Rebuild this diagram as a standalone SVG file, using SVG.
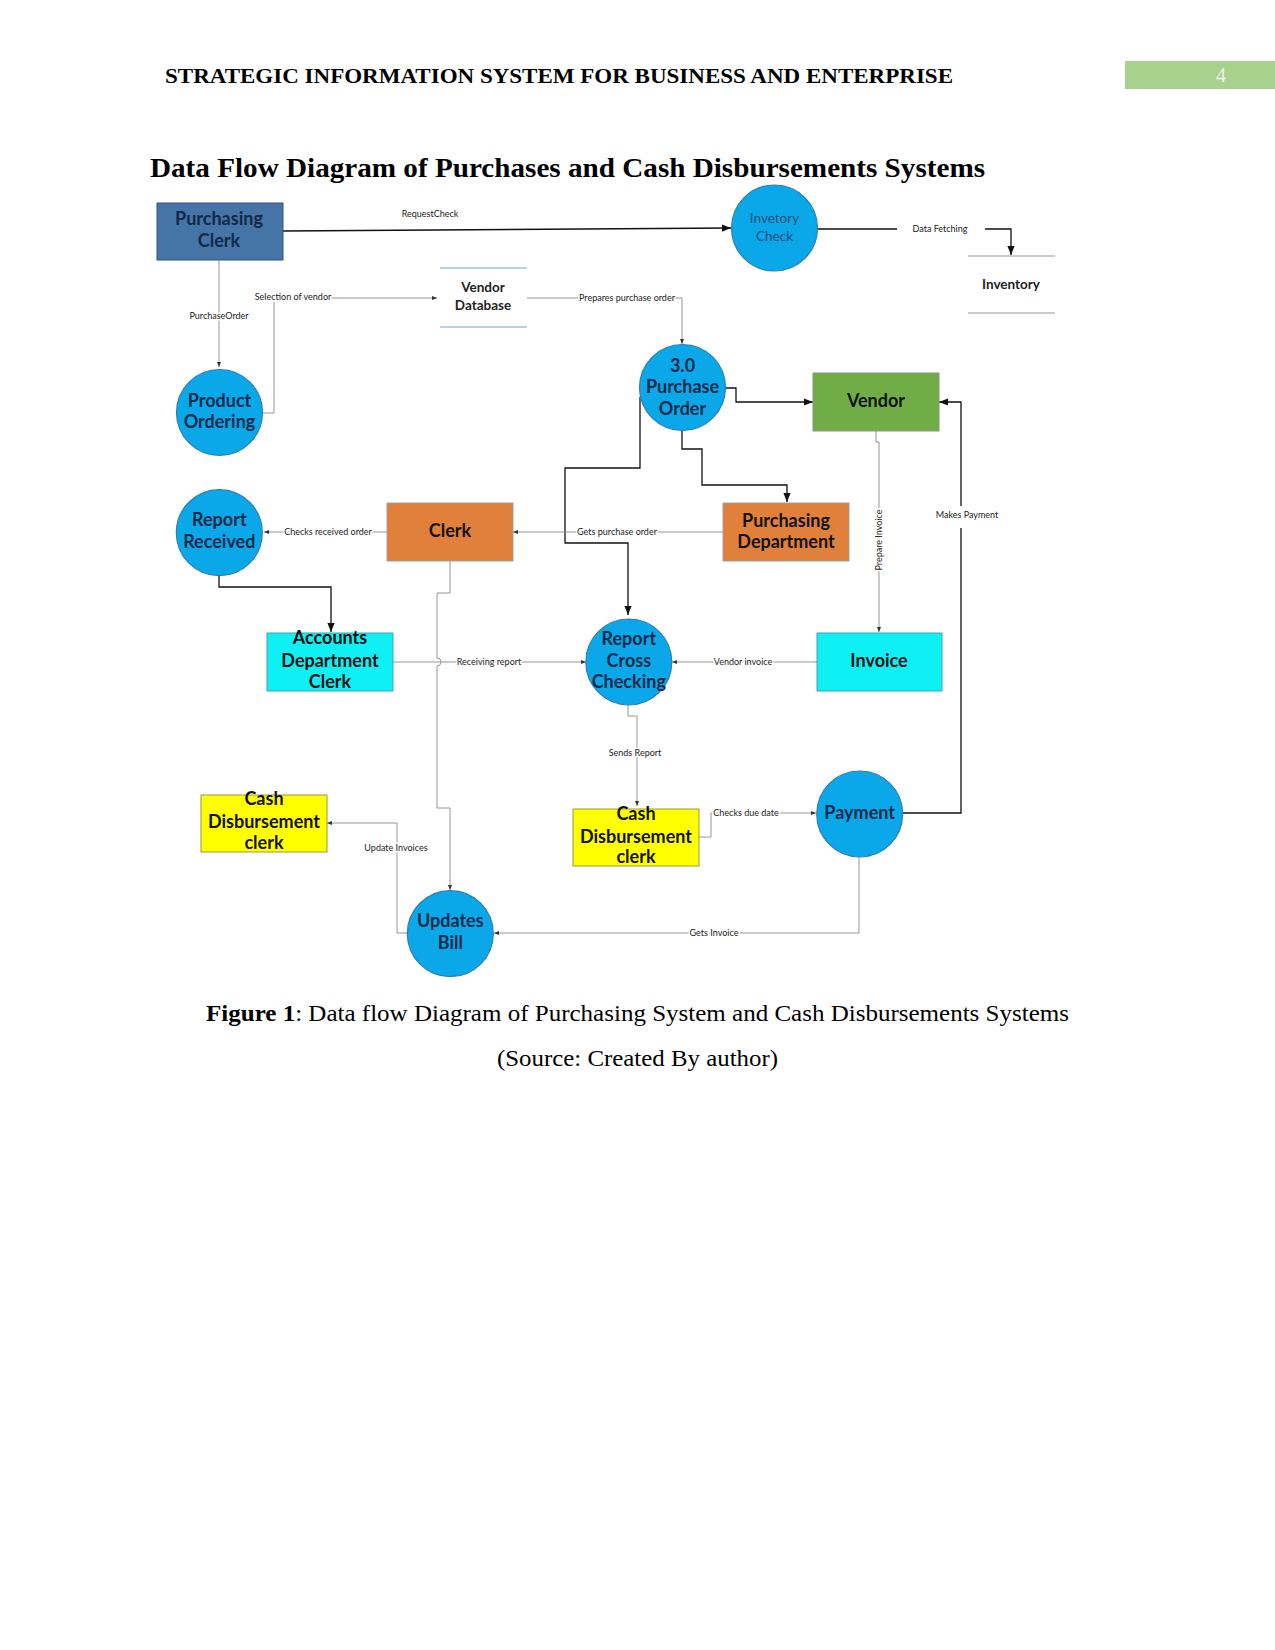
<svg xmlns="http://www.w3.org/2000/svg" width="1275" height="1650" viewBox="0 0 1275 1650">
<defs>
<style>
.hdr{font-family:"Liberation Serif",serif;font-weight:bold;fill:#000}
.cap{font-family:"Liberation Serif",serif;fill:#000;font-size:23px}
.circ{fill:#0aa8e8;stroke:#2c7fb8;stroke-width:1.2}
.ct{font-family:Lato,"Open Sans",sans-serif;font-weight:bold;font-size:18px;fill:#0f2a4a;text-anchor:middle}
.bt{font-family:Lato,"Open Sans",sans-serif;font-weight:bold;font-size:18px;fill:#111;text-anchor:middle}
.st{font-family:Lato,"Open Sans",sans-serif;font-size:13.5px;fill:#222;text-anchor:middle}
.lb{font-family:Lato,"Open Sans",sans-serif;font-size:9px;fill:#222;text-anchor:middle;stroke:#fff;stroke-width:3;paint-order:stroke;stroke-linejoin:round}
.kb{fill:none;stroke:#111;stroke-width:1.3}
.kg{fill:none;stroke:#8a8a8a;stroke-width:0.9}
</style>
<marker id="ab" viewBox="0 0 10 10" refX="10" refY="5" markerWidth="9" markerHeight="9" markerUnits="userSpaceOnUse" orient="auto"><path d="M0,1 L10,5 L0,9 z" fill="#111"/></marker>
<marker id="ag" viewBox="0 0 10 10" refX="10" refY="5" markerWidth="5" markerHeight="5" markerUnits="userSpaceOnUse" orient="auto"><path d="M0,1 L10,5 L0,9 z" fill="#333"/></marker>
</defs>
<rect width="1275" height="1650" fill="#fff"/>

<!-- page header -->
<text class="hdr" x="165" y="83" font-size="20" textLength="788" lengthAdjust="spacingAndGlyphs">STRATEGIC INFORMATION SYSTEM FOR BUSINESS AND ENTERPRISE</text>
<rect x="1125" y="61" width="150" height="28" fill="#a9d18e"/>
<text x="1221" y="82" font-family="Liberation Serif,serif" font-size="20" fill="#eef5e8" text-anchor="middle">4</text>
<text class="hdr" x="150" y="177" font-size="28" textLength="835" lengthAdjust="spacingAndGlyphs">Data Flow Diagram of Purchases and Cash Disbursements Systems</text>

<!-- connectors -->
<g id="connectors">
<path class="kb" d="M283,231 L731,228" marker-end="url(#ab)"/>
<path class="kb" d="M817,229 H897"/>
<path class="kb" d="M985,229 H1011 V255" marker-end="url(#ab)"/>
<path class="kb" d="M725,388 H736 V402 H813" marker-end="url(#ab)"/>
<path class="kb" d="M682,430 V449 H702 V485 H787 V502" marker-end="url(#ab)"/>
<path class="kb" d="M640,397 V468 H565 V543 H628 V615" marker-end="url(#ab)"/>
<path class="kb" d="M219,576 V587 H331 V632" marker-end="url(#ab)"/>
<path class="kb" d="M903,813 H961 V528"/>
<path class="kb" d="M961,506 V402 H939" marker-end="url(#ab)"/>
<path class="kg" d="M219,260 V367" marker-end="url(#ag)"/>
<path class="kg" d="M263,413 H274 V298 H437" marker-end="url(#ag)"/>
<path class="kg" d="M527,298 H682 V344" marker-end="url(#ag)"/>
<path class="kg" d="M723,532 H513" marker-end="url(#ag)"/>
<path class="kg" d="M387,532 H264" marker-end="url(#ag)"/>
<path class="kg" d="M450,561 V593 H437 V658 A4,4 0 0 1 437,666 V808 H450 V890" marker-end="url(#ag)"/>
<path class="kg" d="M393,662 H586" marker-end="url(#ag)"/>
<path class="kg" d="M817,662 H672" marker-end="url(#ag)"/>
<path class="kg" d="M876,431 V442 H879 V632" marker-end="url(#ag)"/>
<path class="kg" d="M628,705 V716 H637 V806" marker-end="url(#ag)"/>
<path class="kg" d="M699,837 H711 V813 H816" marker-end="url(#ag)"/>
<path class="kg" d="M859,857 V933 H494" marker-end="url(#ag)"/>
<path class="kg" d="M407,933 H397 V823 H327" marker-end="url(#ag)"/>
<text class="lb" x="430" y="217">RequestCheck</text>
<text class="lb" x="940" y="232">Data Fetching</text>
<text class="lb" x="293" y="300">Selection of vendor</text>
<text class="lb" x="219" y="319">PurchaseOrder</text>
<text class="lb" x="627" y="301">Prepares purchase order</text>
<text class="lb" x="617" y="535">Gets purchase order</text>
<text class="lb" x="328" y="535">Checks received order</text>
<text class="lb" x="489" y="665">Receiving report</text>
<text class="lb" x="743" y="665">Vendor invoice</text>
<text class="lb" transform="translate(882,540) rotate(-90)">Prepare Invoice</text>
<text class="lb" x="967" y="518">Makes Payment</text>
<text class="lb" x="635" y="756">Sends Report</text>
<text class="lb" x="746" y="816">Checks due date</text>
<text class="lb" x="714" y="936">Gets Invoice</text>
<text class="lb" x="396" y="851">Update Invoices</text>
</g>

<!-- nodes -->
<g id="purchasing-clerk">
<rect x="157" y="203" width="126" height="57" fill="#4674a6" stroke="#2f5580" stroke-width="1"/>
<text class="ct" x="219" y="225" fill="#13294a">Purchasing</text>
<text class="ct" x="219" y="247">Clerk</text>
</g>
<g id="inventory-check">
<circle class="circ" cx="774.5" cy="228" r="43"/>
<text x="774.5" y="223" font-family="Lato,sans-serif" font-size="13.5" fill="#1f4e79" text-anchor="middle">Invetory</text>
<text x="774.5" y="241" font-family="Lato,sans-serif" font-size="13.5" fill="#1f4e79" text-anchor="middle">Check</text>
</g>
<g id="inventory">
<line x1="968" y1="256" x2="1055" y2="256" stroke="#9a9a9a" stroke-width="1.2"/>
<line x1="968" y1="313" x2="1055" y2="313" stroke="#9a9a9a" stroke-width="1.2"/>
<text class="st" x="1011" y="289" font-weight="bold">Inventory</text>
</g>
<g id="vendor-database">
<line x1="440" y1="268" x2="527" y2="268" stroke="#9dc3e6" stroke-width="1.5"/>
<line x1="440" y1="327" x2="527" y2="327" stroke="#9dc3e6" stroke-width="1.5"/>
<text class="st" x="483" y="292" font-weight="bold">Vendor</text>
<text class="st" x="483" y="310" font-weight="bold">Database</text>
</g>
<g id="product-ordering">
<circle class="circ" cx="219.5" cy="412.5" r="43"/>
<text class="ct" x="219.5" y="407">Product</text>
<text class="ct" x="219.5" y="428">Ordering</text>
</g>
<g id="purchase-order">
<circle class="circ" cx="682.5" cy="387.5" r="43"/>
<text class="ct" x="682.5" y="371.5">3.0</text>
<text class="ct" x="682.5" y="393">Purchase</text>
<text class="ct" x="682.5" y="414.5">Order</text>
</g>
<g id="vendor">
<rect x="813" y="373" width="126" height="58" fill="#70ad47" stroke="#8a9a80" stroke-width="1"/>
<text class="bt" x="876" y="407" fill="#142a0a">Vendor</text>
</g>
<g id="purchasing-department">
<rect x="723" y="503" width="126" height="58" fill="#e0803a" stroke="#a0a0a0" stroke-width="1"/>
<text class="bt" x="786" y="526.5">Purchasing</text>
<text class="bt" x="786" y="548">Department</text>
</g>
<g id="clerk">
<rect x="387" y="503" width="126" height="58" fill="#e0803a" stroke="#a0a0a0" stroke-width="1"/>
<text class="bt" x="450" y="537">Clerk</text>
</g>
<g id="report-received">
<circle class="circ" cx="219.3" cy="532.7" r="43"/>
<text class="ct" x="219.3" y="526">Report</text>
<text class="ct" x="219.3" y="547.5">Received</text>
</g>
<g id="accounts-department-clerk">
<rect x="267" y="633" width="126" height="58" fill="#0ff0f5" stroke="#4aa0b0" stroke-width="1"/>
<text class="bt" x="330" y="643.5" fill="#0f2a4a">Accounts</text>
<text class="bt" x="330" y="666.5" fill="#0f2a4a">Department</text>
<text class="bt" x="330" y="688" fill="#0f2a4a">Clerk</text>
</g>
<g id="report-cross-checking">
<circle class="circ" cx="628.8" cy="662" r="43"/>
<text class="ct" x="628.8" y="645">Report</text>
<text class="ct" x="628.8" y="666.5">Cross</text>
<text class="ct" x="628.8" y="688">Checking</text>
</g>
<g id="invoice">
<rect x="817" y="633" width="125" height="58" fill="#0ff0f5" stroke="#4aa0b0" stroke-width="1"/>
<text class="bt" x="879" y="667" fill="#0f2a4a">Invoice</text>
</g>
<g id="cash-disbursement-clerk-right">
<rect x="573" y="809" width="126" height="57" fill="#ffff00" stroke="#9a9a40" stroke-width="1"/>
<text class="bt" x="636" y="820">Cash</text>
<text class="bt" x="636" y="842.5">Disbursement</text>
<text class="bt" x="636" y="863">clerk</text>
</g>
<g id="payment">
<circle class="circ" cx="859.7" cy="814" r="43"/>
<text class="ct" x="859.7" y="818.5">Payment</text>
</g>
<g id="cash-disbursement-clerk-left">
<rect x="201" y="795" width="126" height="57" fill="#ffff00" stroke="#9a9a40" stroke-width="1"/>
<text class="bt" x="264" y="805">Cash</text>
<text class="bt" x="264" y="827.5">Disbursement</text>
<text class="bt" x="264" y="849">clerk</text>
</g>
<g id="updates-bill">
<circle class="circ" cx="450.3" cy="933.7" r="43"/>
<text class="ct" x="450.3" y="926.5">Updates</text>
<text class="ct" x="450.3" y="949">Bill</text>
</g>

<!-- caption -->
<text class="cap" x="206" y="1021" textLength="863" lengthAdjust="spacingAndGlyphs"><tspan font-weight="bold">Figure 1</tspan>: Data flow Diagram of Purchasing System and Cash Disbursements Systems</text>
<text class="cap" x="637.5" y="1066" text-anchor="middle" textLength="281" lengthAdjust="spacingAndGlyphs">(Source: Created By author)</text>
</svg>
